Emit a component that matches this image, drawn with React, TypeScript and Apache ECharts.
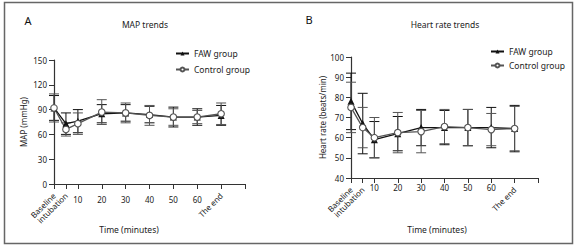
import React, { useEffect, useRef } from "react";
import * as echarts from "echarts";

const timePoints = [0, 5, 10, 20, 30, 40, 50, 60, 70];
const tickValues = [0, 5, 10, 20, 30, 40, 50, 60, 70, 80];
const numberLabels = [10, 20, 30, 40, 50, 60];
const wordLabels: Record<number, string> = { 0: "Baseline", 5: "intubation", 70: "The end" };

const mapFaw = [92, 73, 76, 85, 86, 84, 81, 81, 83];
const mapFawSd = [15, 13, 14, 11, 10, 10, 12, 10, 12];
const mapCtrl = [92, 66, 73, 87, 86, 83, 81, 81, 85];
const mapCtrlSd = [17, 8, 13, 15, 12, 12, 10, 8, 13];

const hrFaw = [78, 67, 59, 62, 65, 65, 65, 65, 64.5];
const hrFawSd = [14, 15, 9, 8.5, 9, 8.5, 9, 10, 11.5];
const hrCtrl = [75, 65, 60, 62.5, 63, 65.5, 65, 64, 64.5];
const hrCtrlSd = [12.5, 10, 10, 10, 10.5, 8.5, 9, 8, 11];

const FONT = "Noto Sans";
const TXT = "#222";
const FAW_COLOR = "#111";
const CTRL_COLOR = "#555";

function errData(m: number[], sd: number[]) {
  return timePoints.map((t, i) => [t, m[i] - sd[i], m[i] + sd[i]]);
}

function errSeries(name: string, data: number[][], color: string, xi: number, yi: number) {
  return {
    type: "custom",
    name,
    xAxisIndex: xi,
    yAxisIndex: yi,
    z: 1,
    data,
    renderItem: (params: any, api: any) => {
      const x = api.value(0);
      const p1 = api.coord([x, api.value(1)]);
      const p2 = api.coord([x, api.value(2)]);
      const w = 5;
      const st = { stroke: color, lineWidth: 1 };
      return {
        type: "group",
        children: [
          { type: "line", shape: { x1: p1[0], y1: p1[1], x2: p2[0], y2: p2[1] }, style: st },
          { type: "line", shape: { x1: p1[0] - w, y1: p1[1], x2: p1[0] + w, y2: p1[1] }, style: st },
          { type: "line", shape: { x1: p2[0] - w, y1: p2[1], x2: p2[0] + w, y2: p2[1] }, style: st },
        ],
      };
    },
  };
}

function lineSeries(name: string, vals: number[], kind: "faw" | "ctrl", xi: number, yi: number) {
  const isFaw = kind === "faw";
  return {
    type: "line",
    name,
    xAxisIndex: xi,
    yAxisIndex: yi,
    z: 3,
    data: timePoints.map((t, i) => [t, vals[i]]),
    symbol: isFaw ? "triangle" : "circle",
    symbolSize: isFaw ? 7 : 6.5,
    showSymbol: true,
    lineStyle: { color: isFaw ? FAW_COLOR : CTRL_COLOR, width: 1.3 },
    itemStyle: isFaw
      ? { color: FAW_COLOR, borderColor: FAW_COLOR, borderWidth: 0 }
      : { color: "#fff", borderColor: CTRL_COLOR, borderWidth: 1.1 },
  };
}

function xAxes(gridIndex: number, numMargin: number, wordMargin: number) {
  const base = {
    type: "value",
    gridIndex,
    position: "bottom",
    min: 0,
    max: 80,
    splitLine: { show: false },
  };
  return [
    {
      ...base,
      axisLine: { show: true, onZero: false, lineStyle: { color: "#333", width: 1.2 } },
      axisTick: { show: true, customValues: tickValues, length: 5, lineStyle: { color: "#333", width: 1 } },
      axisLabel: {
        customValues: numberLabels,
        fontFamily: FONT,
        fontSize: 8,
        color: TXT,
        margin: numMargin,
      },
    },
    {
      ...base,
      axisLine: { show: false, onZero: false },
      axisTick: { show: false },
      axisLabel: {
        customValues: [0, 5, 70],
        formatter: (v: number) => wordLabels[v] ?? "",
        rotate: 45,
        fontFamily: FONT,
        fontSize: 8,
        color: TXT,
        margin: wordMargin,
      },
    },
  ];
}

function yAxis(gridIndex: number, min: number, max: number, interval: number, name: string, gap: number) {
  return {
    type: "value",
    gridIndex,
    min,
    max,
    interval,
    name,
    nameLocation: "middle",
    nameGap: gap,
    nameTextStyle: { fontFamily: FONT, fontSize: 8, color: TXT },
    splitLine: { show: false },
    axisLine: { show: true, onZero: false, lineStyle: { color: "#333", width: 1.2 } },
    axisTick: { show: true, length: 5, lineStyle: { color: "#333", width: 1 } },
    axisLabel: { fontFamily: FONT, fontSize: 8, color: TXT, margin: 7 },
  };
}

function legend(left: number, top: number, gap: number) {
  return {
    left,
    top,
    orient: "vertical",
    itemWidth: 13,
    itemHeight: 5,
    itemGap: gap,
    data: ["FAW group", "Control group"],
    textStyle: { fontFamily: FONT, fontSize: 8.5, color: TXT },
    selectedMode: false,
  };
}

export default function App() {
  const ref = useRef<HTMLDivElement>(null);
  useEffect(() => {
    if (!ref.current) return;
    const chart = echarts.init(ref.current, null, { renderer: "svg" });
    chart.setOption({
      animation: false,
      backgroundColor: "#fff",
      grid: [
        { left: 54, top: 60, width: 191, height: 124 },
        { left: 351, top: 57, width: 187, height: 121 },
      ],
      xAxis: [...xAxes(0, 11, 10), ...xAxes(1, 5, 10)],
      yAxis: [
        yAxis(0, 0, 150, 30, "MAP (mmHg)", 27),
        yAxis(1, 40, 100, 10, "Heart rate (beats/min)", 25),
      ],
      legend: [legend(170, 44, 7), legend(485, 42, 5)],
      series: [
        errSeries("mapFawErr", errData(mapFaw, mapFawSd), FAW_COLOR, 0, 0),
        errSeries("mapCtrlErr", errData(mapCtrl, mapCtrlSd), CTRL_COLOR, 0, 0),
        lineSeries("FAW group", mapFaw, "faw", 0, 0),
        lineSeries("Control group", mapCtrl, "ctrl", 0, 0),
        errSeries("hrFawErr", errData(hrFaw, hrFawSd), FAW_COLOR, 2, 1),
        errSeries("hrCtrlErr", errData(hrCtrl, hrCtrlSd), CTRL_COLOR, 2, 1),
        lineSeries("FAW group", hrFaw, "faw", 2, 1),
        lineSeries("Control group", hrCtrl, "ctrl", 2, 1),
      ],
      graphic: [
        {
          type: "rect",
          shape: { x: 4.5, y: 2.5, width: 568, height: 241 },
          style: { fill: "none", stroke: "#666", lineWidth: 1.5 },
          silent: true,
        },
        { type: "text", x: 28, y: 20, style: { text: "A", font: `11px "${FONT}"`, fill: "#111", align: "center", verticalAlign: "middle" } },
        { type: "text", x: 309, y: 19, style: { text: "B", font: `11px "${FONT}"`, fill: "#111", align: "center", verticalAlign: "middle" } },
        { type: "text", x: 145, y: 24, style: { text: "MAP trends", font: `8.5px "${FONT}"`, fill: TXT, align: "center", verticalAlign: "middle" } },
        { type: "text", x: 445, y: 24, style: { text: "Heart rate trends", font: `8.5px "${FONT}"`, fill: TXT, align: "center", verticalAlign: "middle" } },
        { type: "text", x: 129, y: 229, style: { text: "Time (minutes)", font: `8.5px "${FONT}"`, fill: TXT, align: "center", verticalAlign: "middle" } },
        { type: "text", x: 437, y: 229, style: { text: "Time (minutes)", font: `8.5px "${FONT}"`, fill: TXT, align: "center", verticalAlign: "middle" } },
      ],
    });
    return () => chart.dispose();
  }, []);
  return (
    <div
      ref={ref}
      style={{ position: "fixed", left: 0, top: 0, width: 579, height: 247 }}
    />
  );
}
